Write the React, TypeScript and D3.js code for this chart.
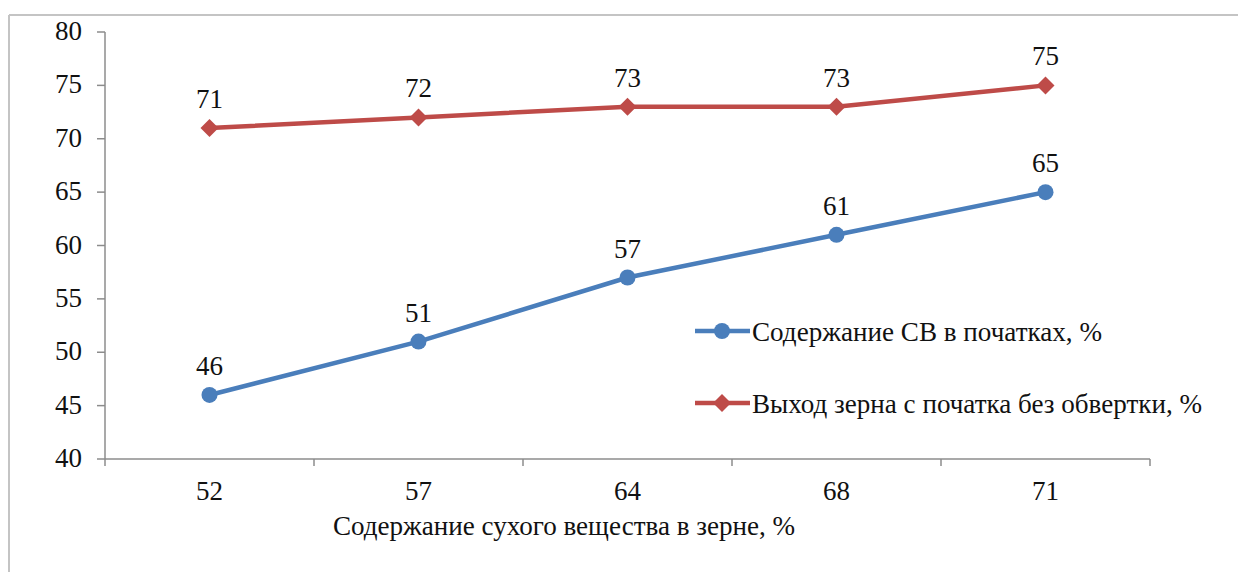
import React from "react";
import * as d3 from "d3";

const categories = ["52", "57", "64", "68", "71"];
const seriesCB = [46, 51, 57, 61, 65];
const seriesYield = [71, 72, 73, 73, 75];
const yTicks = [40, 45, 50, 55, 60, 65, 70, 75, 80];
const seriesNames = ["Содержание СВ в початках, %", "Выход зерна с початка без обвертки, %"];
const xTitle = "Содержание сухого вещества в зерне, %";

const W = 1238;
const H = 572;
const BLUE = "#4A7EBB";
const RED = "#BE4B48";
const FONT = "Times New Roman";

export default function App() {
  const x = d3.scaleBand<string>().domain(categories).range([105, 1150]);
  const y = d3.scaleLinear().domain([40, 80]).range([459, 32]);
  const cx = (c: string) => (x(c) ?? 0) + x.bandwidth() / 2;
  const line = d3
    .line<number>()
    .x((_, i) => cx(categories[i]))
    .y((d) => y(d));
  const diamond = (px: number, py: number, r: number) =>
    `M${px},${py - r}L${px + r},${py}L${px},${py + r}L${px - r},${py}Z`;
  const xTickPos = [...categories.map((c) => x(c) ?? 0), 1150];
  const legendY = [331, 403];
  const legendLen = [350, 450];

  return (
    <svg
      width={W}
      height={H}
      fontFamily={FONT}
      style={{ position: "absolute", left: 0, top: 0, background: "#fff", fontFamily: FONT }}
    >
      <rect x={0} y={0} width={W} height={H} fill="#fff" />
      <line x1={9} y1={15} x2={W} y2={15} stroke="#c4c4c4" strokeWidth={2} />
      <line x1={9} y1={15} x2={9} y2={H} stroke="#c4c4c4" strokeWidth={2} />

      <line x1={105} y1={y(80)} x2={105} y2={y(40)} stroke="#8c8c8c" strokeWidth={1.5} />
      {yTicks.map((t) => (
        <g key={t}>
          <line x1={97} y1={y(t)} x2={105} y2={y(t)} stroke="#8c8c8c" strokeWidth={1.5} />
          <text x={82} y={y(t) + 8} textAnchor="end" fontSize={27} fill="#111">
            {t}
          </text>
        </g>
      ))}

      <line x1={105} y1={y(40)} x2={1150} y2={y(40)} stroke="#8c8c8c" strokeWidth={1.5} />
      {xTickPos.map((p, i) => (
        <line key={i} x1={p} y1={y(40)} x2={p} y2={y(40) + 7} stroke="#8c8c8c" strokeWidth={1.5} />
      ))}
      {categories.map((c) => (
        <text key={c} x={cx(c)} y={500} textAnchor="middle" fontSize={27} fill="#111">
          {c}
        </text>
      ))}
      <text
        x={333}
        y={535}
        fontSize={28}
        fill="#111"
        textLength={462}
        lengthAdjust="spacingAndGlyphs"
      >
        {xTitle}
      </text>

      <path d={line(seriesYield) ?? ""} fill="none" stroke={RED} strokeWidth={4.5} />
      <path d={line(seriesCB) ?? ""} fill="none" stroke={BLUE} strokeWidth={4.5} />

      {seriesYield.map((v, i) => (
        <g key={"r" + i}>
          <path d={diamond(cx(categories[i]), y(v), 9)} fill={RED} />
          <text x={cx(categories[i])} y={y(v) - 20} textAnchor="middle" fontSize={27} fill="#111">
            {v}
          </text>
        </g>
      ))}
      {seriesCB.map((v, i) => (
        <g key={"b" + i}>
          <circle cx={cx(categories[i])} cy={y(v)} r={8} fill={BLUE} />
          <text x={cx(categories[i])} y={y(v) - 20} textAnchor="middle" fontSize={27} fill="#111">
            {v}
          </text>
        </g>
      ))}

      {[0, 1].map((i) => {
        const ly = legendY[i];
        return (
          <g key={"l" + i}>
            <line x1={695} y1={ly} x2={750} y2={ly} stroke={i === 0 ? BLUE : RED} strokeWidth={4.5} />
            {i === 0 ? (
              <circle cx={722} cy={ly} r={8} fill={BLUE} />
            ) : (
              <path d={diamond(722, ly, 9)} fill={RED} />
            )}
            <text
              x={752}
              y={ly + 10}
              fontSize={28}
              fill="#111"
              textLength={legendLen[i]}
              lengthAdjust="spacingAndGlyphs"
            >
              {seriesNames[i]}
            </text>
          </g>
        );
      })}
    </svg>
  );
}
